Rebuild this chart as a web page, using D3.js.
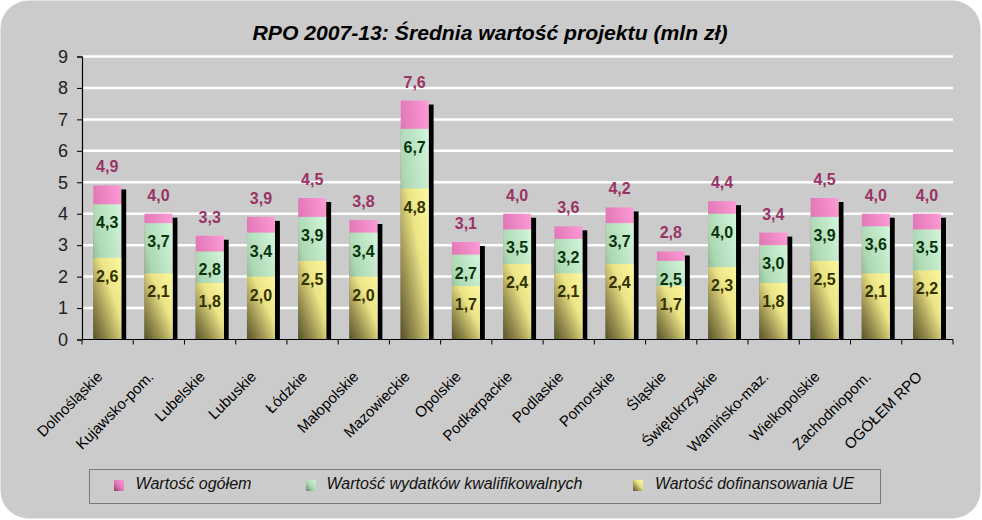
<!DOCTYPE html>
<html><head><meta charset="utf-8">
<script src="https://cdn.jsdelivr.net/npm/d3@7"></script>
<style>body{margin:0;background:#fff}svg{display:block}</style>
</head><body>
<svg id="c" width="982" height="520"></svg>
<script>
const categories = ["Dolnośląskie","Kujawsko-pom.","Lubelskie","Lubuskie","Łódzkie","Małopolskie","Mazowieckie","Opolskie","Podkarpackie","Podlaskie","Pomorskie","Śląskie","Świętokrzyskie","Wamińsko-maz.","Wielkopolskie","Zachodniopom.","OGÓŁEM RPO"];
const totalValues = [4.9,4.0,3.3,3.9,4.5,3.8,7.6,3.1,4.0,3.6,4.2,2.8,4.4,3.4,4.5,4.0,4.0];
const qualifiedValues = [4.3,3.7,2.8,3.4,3.9,3.4,6.7,2.7,3.5,3.2,3.7,2.5,4.0,3.0,3.9,3.6,3.5];
const euValues = [2.6,2.1,1.8,2.0,2.5,2.0,4.8,1.7,2.4,2.1,2.4,1.7,2.3,1.8,2.5,2.1,2.2];
const yTicks = [0,1,2,3,4,5,6,7,8,9];
const seriesNames = ["Wartość ogółem","Wartość wydatków kwalifikowalnych","Wartość dofinansowania UE"];
const title = "RPO 2007-13: Średnia wartość projektu (mln zł)";

const svg = d3.select("#c");
const F = "'Liberation Sans', Arial, sans-serif";
const fmt = v => d3.format(".1f")(v).replace(".", ",");

// background
svg.append("rect").attr("x",0.5).attr("y",0.5).attr("width",980).attr("height",518)
  .attr("rx",28).attr("fill","#cbcbcb");

// gradients
const defs = svg.append("defs");
const grads = [
  {id:"gPink", stops:[["0","#8c3a68"],["0.45","#e276b6"],["1","#fc9cd6"]]},
  {id:"gGreen", stops:[["0","#5c8a64"],["0.45","#acd8b4"],["1","#d2f6da"]]},
  {id:"gYellow", stops:[["0","#58522a"],["0.3","#9c9452"],["0.62","#ece486"],["1","#fcf89e"]]}
];
grads.forEach(g => {
  const lg = defs.append("linearGradient").attr("id",g.id)
    .attr("x1",0).attr("y1",1).attr("x2",1).attr("y2",0);
  g.stops.forEach(s => lg.append("stop").attr("offset",s[0]).attr("stop-color",s[1]));
});

const x = d3.scaleBand().domain(categories).range([82,953]);
const y = d3.scaleLinear().domain([0,9]).range([339.5,56.5]);
const bw = x.bandwidth();
const barX = c => x(c) + bw*0.22;
const barW = bw*0.545;

// gridlines
svg.append("g").selectAll("line").data(yTicks.filter(t=>t>0)).join("line")
  .attr("x1",82).attr("x2",953).attr("y1",d=>y(d)).attr("y2",d=>y(d))
  .attr("stroke","#ffffff").attr("stroke-width",2.5);

// title
svg.append("text").attr("x",490).attr("y",40).attr("text-anchor","middle")
  .attr("font-family",F).attr("font-size",21).attr("font-weight","bold").attr("font-style","italic")
  .attr("fill","#000").attr("textLength",475).attr("lengthAdjust","spacingAndGlyphs").text(title);

// bars
const data = categories.map((c,i)=>({c, t:totalValues[i], q:qualifiedValues[i], e:euValues[i]}));
const g = svg.append("g");
g.selectAll(".sh").data(data).join("rect").attr("class","sh")
  .attr("x",d=>barX(d.c)+barW).attr("width",5)
  .attr("y",d=>y(d.t)+4).attr("height",d=>y(0)-y(d.t)-4).attr("fill","#000");
g.selectAll(".bt").data(data).join("rect").attr("class","bt")
  .attr("x",d=>barX(d.c)).attr("width",barW)
  .attr("y",d=>y(d.t)).attr("height",d=>y(0)-y(d.t)).attr("fill","url(#gPink)");
g.selectAll(".bq").data(data).join("rect").attr("class","bq")
  .attr("x",d=>barX(d.c)).attr("width",barW)
  .attr("y",d=>y(d.q)).attr("height",d=>y(0)-y(d.q)).attr("fill","url(#gGreen)");
g.selectAll(".be").data(data).join("rect").attr("class","be")
  .attr("x",d=>barX(d.c)).attr("width",barW)
  .attr("y",d=>y(d.e)).attr("height",d=>y(0)-y(d.e)).attr("fill","url(#gYellow)");

// labels
const lab = (cls, key, dy, color) => g.selectAll("."+cls).data(data).join("text").attr("class",cls)
  .attr("x",d=>barX(d.c)+barW/2).attr("y",d=>y(d[key])+dy)
  .attr("text-anchor","middle").attr("font-family",F).attr("font-size",16).attr("font-weight","bold")
  .attr("fill",color).text(d=>fmt(d[key]));
lab("lt","t",-13,"#993366");
lab("lq","q",24,"#0a330a");
lab("le","e",24,"#333300");

// axes
const yAxis = d3.axisLeft(y).tickValues(yTicks).tickSize(5).tickPadding(9).tickFormat(d3.format("d"));
const ya = svg.append("g").attr("transform","translate(82,0)").call(yAxis);
ya.select(".domain").attr("stroke","#000").attr("stroke-width",1.2);
ya.selectAll(".tick line").attr("stroke","#000");
ya.selectAll("text").attr("font-family",F).attr("font-size",18).attr("fill","#222");

svg.append("line").attr("x1",82).attr("x2",953).attr("y1",y(0)).attr("y2",y(0))
  .attr("stroke","#000").attr("stroke-width",1.2);
const bounds = categories.map(c=>x(c)).concat([x.range()[1]]);
svg.append("g").selectAll("line").data(bounds).join("line")
  .attr("x1",d=>d).attr("x2",d=>d).attr("y1",y(0)).attr("y2",y(0)+5).attr("stroke","#000");

svg.append("g").selectAll("text").data(categories).join("text")
  .attr("transform",c=>`translate(${x(c)+bw/2-8},374) rotate(-45)`)
  .attr("text-anchor","end").attr("dy","0.35em")
  .attr("font-family",F).attr("font-size",15).attr("fill","#000").text(c=>c);

// legend
svg.append("rect").attr("x",89.5).attr("y",469.5).attr("width",791).attr("height",34)
  .attr("fill","none").attr("stroke","#7a7a7a").attr("stroke-width",1);
const legItems = [
  {name:seriesNames[0], fill:"url(#gPink)", sx:114, tx:135.5, tw:116},
  {name:seriesNames[1], fill:"url(#gGreen)", sx:306, tx:326.5, tw:256},
  {name:seriesNames[2], fill:"url(#gYellow)", sx:633, tx:655, tw:199}
];
const lg = svg.append("g").selectAll("g").data(legItems).join("g");
lg.append("rect").attr("x",d=>d.sx).attr("y",480).attr("width",10).attr("height",11).attr("fill",d=>d.fill);
lg.append("text").attr("x",d=>d.tx).attr("y",489).attr("font-family",F).attr("font-size",16)
  .attr("font-style","italic").attr("fill","#111")
  .attr("textLength",d=>d.tw).attr("lengthAdjust","spacingAndGlyphs").text(d=>d.name);
</script>
</body></html>
